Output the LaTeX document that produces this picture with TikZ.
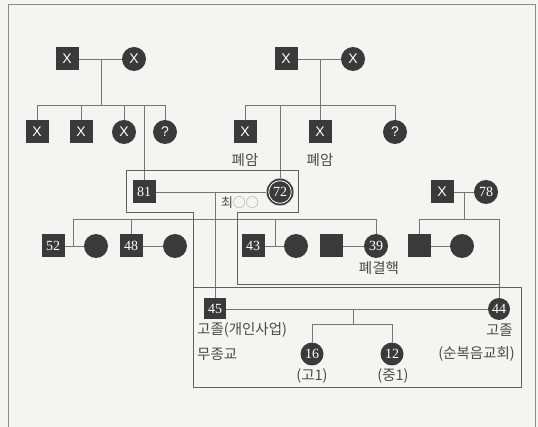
\documentclass[tikz,border=0pt]{standalone}
\usepackage{fontspec}
\setmainfont{Liberation Serif}
\newfontfamily\krfont{Noto Sans CJK KR}
\newfontfamily\xsans{Liberation Sans}
\usetikzlibrary{calc}
\definecolor{sym}{HTML}{3A3A3A}
\definecolor{ln}{HTML}{767676}
\definecolor{bx}{HTML}{606060}
\definecolor{lbl}{HTML}{4A4A4A}
\definecolor{bgc}{HTML}{F4F4F2}
\definecolor{frm}{HTML}{8A8A8A}
\begin{document}
\begin{tikzpicture}[x=1pt,y=-1pt,
  male/.style={rectangle, fill=sym, minimum width=23pt, minimum height=23pt, inner sep=0pt, text=white, font=\fontsize{14}{14}\selectfont},
  female/.style={circle, fill=sym, minimum size=24pt, inner sep=0pt, text=white, font=\fontsize{14}{14}\selectfont},
  xmark/.style={font=\xsans\fontsize{14}{14}\selectfont},
  rel/.style={draw=ln, line width=0.9pt},
  encl/.style={draw=bx, line width=0.9pt},
  lab/.style={text=lbl, font=\krfont\fontsize{14.5}{16}\selectfont, inner sep=0pt}
]
\useasboundingbox (0,0) rectangle (538,427);
\fill[bgc] (0,0) rectangle (538,427);
\draw[frm, line width=1pt] (8,430) -- (8,5) -- (535,5) -- (535,430);

% generation 1, left
\node[male, xmark] (gfL) at (67,59) {X};
\node[female, xmark] (gmL) at (134,59) {X};
\node[male, xmark] (c1) at (37,132) {X};
\node[male, xmark] (c2) at (81,132) {X};
\node[female, xmark] (c3) at (124,132) {X};
\node[female, xmark] (c4) at (165,132) {?};

% generation 1, right
\node[male, xmark] (gfR) at (286,59) {X};
\node[female, xmark] (gmR) at (353,59) {X};
\node[male, xmark] (d1) at (245,132) {X};
\node[male, xmark] (d2) at (320,132) {X};
\node[female, xmark] (d4) at (395,132) {?};
\node[lab] (l1) at (245,160) {폐암};
\node[lab] (l2) at (320,160) {폐암};

% generation 2
\node[male] (n81) at (144,192) {81};
\node[female, minimum size=27pt] (n72) at (280,192) {72};
\draw[white, line width=0.8pt] (n72.center) circle (11.3pt);
\node[lab, font=\krfont\fontsize{13}{15}\selectfont] (choi) at (240,203) {최\textcolor[HTML]{9A9A9A}{○○}};
\node[male, xmark] (xf) at (442,192) {X};
\node[female] (n78) at (486,192) {78};

% generation 3
\node[male] (n52) at (53,246) {52};
\node[female] (w52) at (96,246) {};
\node[male] (n48) at (131,246) {48};
\node[female] (w48) at (175,246) {};
\node[male] (n43) at (253,246) {43};
\node[female] (w43) at (296,246) {};
\node[male] (h39) at (331,246) {};
\node[female] (n39) at (376,246) {39};
\node[male] (s78) at (419,246) {};
\node[female] (w78) at (462,246) {};
\node[lab] (l3) at (379,268) {폐결핵};

% generation 4
\node[male, minimum width=22pt, minimum height=21pt] (n45) at (215,309) {45};
\node[female, minimum size=22pt] (n44) at (499,309) {44};
\node[female, minimum size=23pt] (n16) at (312,354) {16};
\node[female, minimum size=23pt] (n12) at (392,354) {12};
\node[lab, anchor=west] (l4) at (197,330) {고졸(개인사업)};
\node[lab, anchor=west] (l5) at (197,354) {무종교};
\node[lab] (l6) at (312,376) {(고1)};
\node[lab] (l7) at (393,376) {(중1)};
\node[lab, anchor=east] (l8) at (513,330) {고졸};
\node[lab, anchor=east] (l9) at (515,354) {(순복음교회)};

% connectors, generation 1 left
\coordinate (jL) at (101,59);
\coordinate (jLb) at (101,105);
\draw[rel] (gfL) -- (gmL);
\draw[rel] (jL) -- (jLb);
\draw[rel] (c1) -- (c1 |- jLb) -- (c4 |- jLb) -- (c4);
\draw[rel] (c2) -- (c2 |- jLb);
\draw[rel] (c3) -- (c3 |- jLb);
\draw[rel] (n81) -- (n81 |- jLb);

% connectors, generation 1 right
\coordinate (jR) at (320,59);
\coordinate (jRb) at (320,105);
\draw[rel] (gfR) -- (gmR);
\draw[rel] (jR) -- (d2);
\draw[rel] (d1) -- (d1 |- jRb) -- (d4 |- jRb) -- (d4);
\draw[rel] (n72) -- (n72 |- jRb);

% connectors, generation 2
\coordinate (j2) at (215,192);
\coordinate (k1) at (73,219);
\coordinate (m52) at (73,246);
\coordinate (k3) at (275,219);
\coordinate (m43) at (275,246);
\draw[rel] (n81) -- (n72);
\draw[rel] (j2) -- (n45);
\draw[rel] (m52) -- (k1) -- (n39 |- k1) -- (n39);
\draw[rel] (n48) -- (n48 |- k1);
\draw[rel] (k3) -- (m43);

\coordinate (j78) at (464,192);
\coordinate (j78b) at (464,219);
\draw[rel] (xf) -- (n78);
\draw[rel] (j78) -- (j78b);
\draw[rel] (s78) -- (s78 |- j78b) -- (n44 |- j78b) -- (n44);

% marriages, generation 3
\draw[rel] (n52) -- (w52);
\draw[rel] (n48) -- (w48);
\draw[rel] (n43) -- (w43);
\draw[rel] (h39) -- (n39);
\draw[rel] (s78) -- (w78);

% generation 4
\coordinate (j4) at (353,309);
\coordinate (j4b) at (353,324);
\draw[rel] (n45) -- (n44);
\draw[rel] (j4) -- (j4b);
\draw[rel] (n16) -- (n16 |- j4b) -- (n12 |- j4b) -- (n12);

% enclosures
\draw[encl] (237,284) -- (237,212) -- (298,212) -- (298,170) -- (126,170) -- (126,212) -- (193,212) -- (193,387) -- (521,387) -- (521,287) -- (193,287);
\draw[encl] (237,284) -- (499,284);
\end{tikzpicture}
\end{document}
